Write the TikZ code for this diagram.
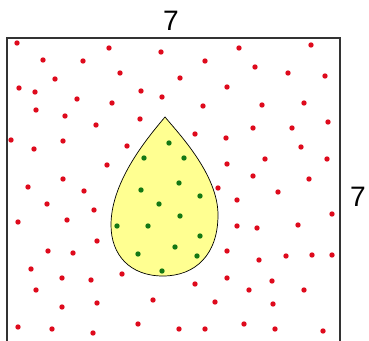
\documentclass[tikz,border=0pt]{standalone}
\usepackage{fontspec}
\setmainfont{Liberation Sans}
\usepackage{xcolor}
\definecolor{dotred}{RGB}{222,10,28}
\definecolor{dotgreen}{RGB}{20,120,20}
\definecolor{dropfill}{RGB}{255,255,145}
\begin{document}
\begin{tikzpicture}[
    x=0.03cm, y=-0.03cm,
    frame/.style={draw=black!80, line width=1.2pt},
    drop/.style={draw=black, line width=0.6pt, fill=dropfill},
    side/.style={font=\fontsize{24}{24}\selectfont, inner sep=0pt},
    reddot/.style={fill=dotred},
    greendot/.style={fill=dotgreen}
]
    \useasboundingbox (0,0) rectangle (369,341);
    \clip (0,0) rectangle (369,341);

    \draw[frame] (7,38) rectangle (340,371);

    \node[side] (toplabel) at (171,21) {7};
    \node[side] (sidelabel) at (358,197) {7};

    \foreach \px/\py in {17/43,109/48,161/52,43/60,83/61,120/73,180/78,55/79,19/88,35/92,141/91,77/99,162/97,112/103,36/110,65/116,140/119,96/125,11/140,34/149,63/141,127/146,107/165,
        239/48,311/45,205/61,255/67,288/73,325/76,227/87,203/106,262/105,304/103,328/122,253/128,292/128,195/134,226/138,301/147,227/164,265/159,327/159,
        63/179,28/187,84/191,47/204,94/210,18/222,67/220,97/241,48/251,73/253,31/269,62/278,91/280,122/274,36/290,62/307,97/303,153/300,18/327,52/329,93/333,138/324,179/329,
        253/176,309/179,218/188,278/192,237/200,332/214,298/225,237/226,257/228,227/251,259/260,286/256,312/255,332/255,195/284,227/278,272/281,249/290,304/290,215/302,273/304,205/329,244/324,275/329,323/331}
        \fill[reddot] (\px,\py) circle (2.7);

    \draw[drop] (165,117) .. controls (180,135) and (218,175) .. (218,215)
        .. controls (218,255) and (195,276) .. (163,276)
        .. controls (130,276) and (111,255) .. (111,225)
        .. controls (111,180) and (150,135) .. (165,117) -- cycle;

    \foreach \px/\py in {169/143,144/158,184/158,179/183,141/190,200/196,159/204,180/216,117/226,148/226,200/236,175/247,138/254,197/256,162/271}
        \fill[greendot] (\px,\py) circle (2.7);
\end{tikzpicture}
\end{document}
